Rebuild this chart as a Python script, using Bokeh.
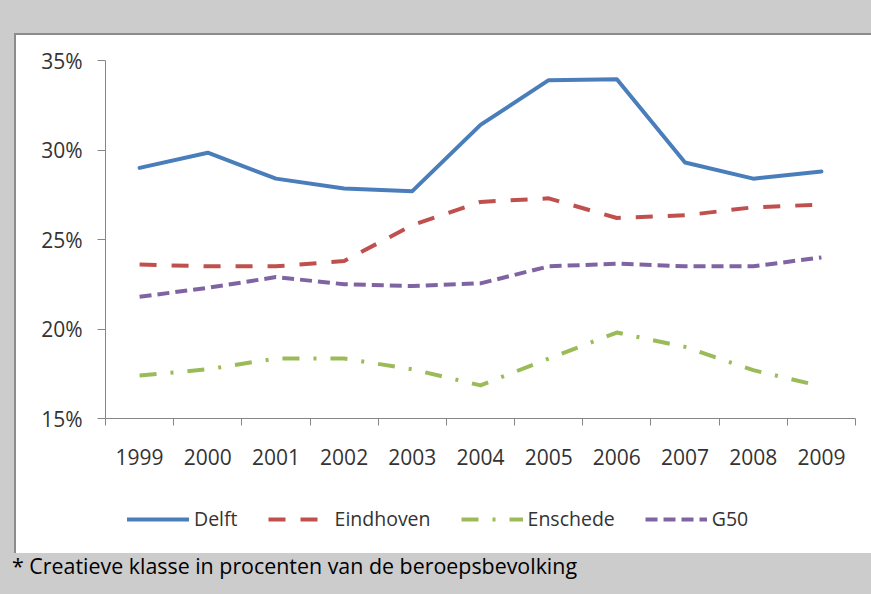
from bokeh.plotting import figure
from bokeh.models import ColumnDataSource, FixedTicker, Legend, LegendItem, Div
from bokeh.layouts import column, row
from bokeh.embed import file_html
from bokeh.resources import INLINE

years = [1999, 2000, 2001, 2002, 2003, 2004, 2005, 2006, 2007, 2008, 2009]
delft = [29.0, 29.85, 28.4, 27.85, 27.7, 31.4, 33.9, 33.95, 29.3, 28.4, 28.8]
eindhoven = [23.6, 23.5, 23.5, 23.8, 25.8, 27.1, 27.3, 26.2, 26.35, 26.8, 26.95]
enschede = [17.4, 17.75, 18.35, 18.35, 17.75, 16.85, 18.35, 19.8, 19.0, 17.7, 16.8]
g50 = [21.8, 22.3, 22.9, 22.5, 22.4, 22.55, 23.5, 23.65, 23.5, 23.5, 24.0]
series_names = ["Delft", "Eindhoven", "Enschede", "G50"]
y_ticks = [15, 20, 25, 30, 35]
y_labels = ["15%", "20%", "25%", "30%", "35%"]
caption = "* Creatieve klasse in procenten van de beroepsbevolking"

FONT = "Open Sans"
TXT = "#333333"
GRAY = "#cccccc"
EDGE = "#8c8c8c"

styles = [
    dict(line_color="#4a7ebb", line_width=4, line_join="round", line_cap="round"),
    dict(line_color="#c0504d", line_width=4, line_join="round", line_dash="17 15"),
    dict(line_color="#9bbb59", line_width=4, line_join="round", line_dash="17 14 3 14"),
    dict(line_color="#8064a2", line_width=4, line_join="round", line_dash="12 6"),
]
cols = ["delft", "eindhoven", "enschede", "g50"]

# ---- main chart ----
p = figure(width=855, height=460, output_backend="svg", toolbar_location=None,
           x_range=(years[0] - 0.5, years[-1] + 0.5), y_range=(y_ticks[0], y_ticks[-1]),
           min_border_left=89, min_border_right=16, min_border_top=25, min_border_bottom=77)
p.border_fill_color = "white"
p.background_fill_color = "white"
p.outline_line_color = None
p.grid.visible = False
p.margin = 0

xa = p.xaxis[0]
xa.ticker = FixedTicker(ticks=years, minor_ticks=[y - 0.5 for y in years] + [years[-1] + 0.5])
xa.major_tick_out = 0
xa.major_tick_in = 0
xa.minor_tick_out = 7
xa.minor_tick_in = 0
xa.minor_tick_line_color = "#868686"
xa.axis_line_color = "#868686"
xa.major_label_text_font = FONT
xa.major_label_text_font_size = "21px"
xa.major_label_text_color = TXT
xa.major_label_standoff = 23

ya = p.yaxis[0]
ya.ticker = FixedTicker(ticks=y_ticks, minor_ticks=[])
ya.major_label_overrides = {t: l for t, l in zip(y_ticks, y_labels)}
ya.major_tick_out = 8
ya.major_tick_in = 0
ya.major_tick_line_color = "#868686"
ya.minor_tick_line_color = None
ya.axis_line_color = "#868686"
ya.major_label_text_font = FONT
ya.major_label_text_font_size = "21px"
ya.major_label_text_color = TXT
ya.major_label_standoff = 15

src = ColumnDataSource(dict(year=years, delft=delft, eindhoven=eindhoven,
                            enschede=enschede, g50=g50))
for col, st in zip(cols, styles):
    p.line("year", col, source=src, **st)

# ---- legend strip (white, below the chart) ----
lg = figure(width=855, height=58, output_backend="svg", toolbar_location=None,
            x_range=(0, 1), y_range=(0, 1), x_axis_type=None, y_axis_type=None,
            min_border_left=0, min_border_right=0, min_border_top=0, min_border_bottom=0)
lg.border_fill_color = "white"
lg.background_fill_color = "white"
lg.outline_line_color = None
lg.grid.visible = False
lg.margin = 0
items = []
for name, col, st in zip(series_names, cols, styles):
    # same series; the data lie outside this strip's ranges, only the legend sample shows
    r = lg.line("year", col, source=src, **st)
    items.append(LegendItem(label=name, renderers=[r]))
legend = Legend(items=items, orientation="horizontal", location=(22, 21),
                glyph_width=62, glyph_height=20, label_height=20,
                label_standoff=5, spacing=30, padding=0, margin=0,
                border_line_color=None, background_fill_alpha=0,
                label_text_font=FONT, label_text_font_size="19.5px",
                label_text_color=TXT, label_text_baseline="middle")
lg.add_layout(legend, "center")

# ---- grey surround ----
top_l = Div(text="", width=14, height=35, margin=0,
            styles={"background-color": GRAY})
top_r = Div(text="", width=857, height=35, margin=0,
            styles={"background-color": GRAY, "border-bottom": f"2px solid {EDGE}",
                    "box-sizing": "border-box"})
left = Div(text="", width=16, height=518, margin=0,
           styles={"background-color": GRAY, "border-right": f"2px solid {EDGE}",
                   "box-sizing": "border-box"})
bottom = Div(text=f'<div style="padding-left:12px;font-family:\'Open Sans\';'
                  f'font-size:21.4px;line-height:26px;color:#000;white-space:nowrap">{caption}</div>',
             width=871, height=41, margin=0,
             styles={"background-color": GRAY})

layout = column(row(top_l, top_r, spacing=0),
                row(left, column(p, lg, spacing=0), spacing=0),
                bottom, spacing=0)

open("out.html", "w").write(file_html(layout, INLINE))
